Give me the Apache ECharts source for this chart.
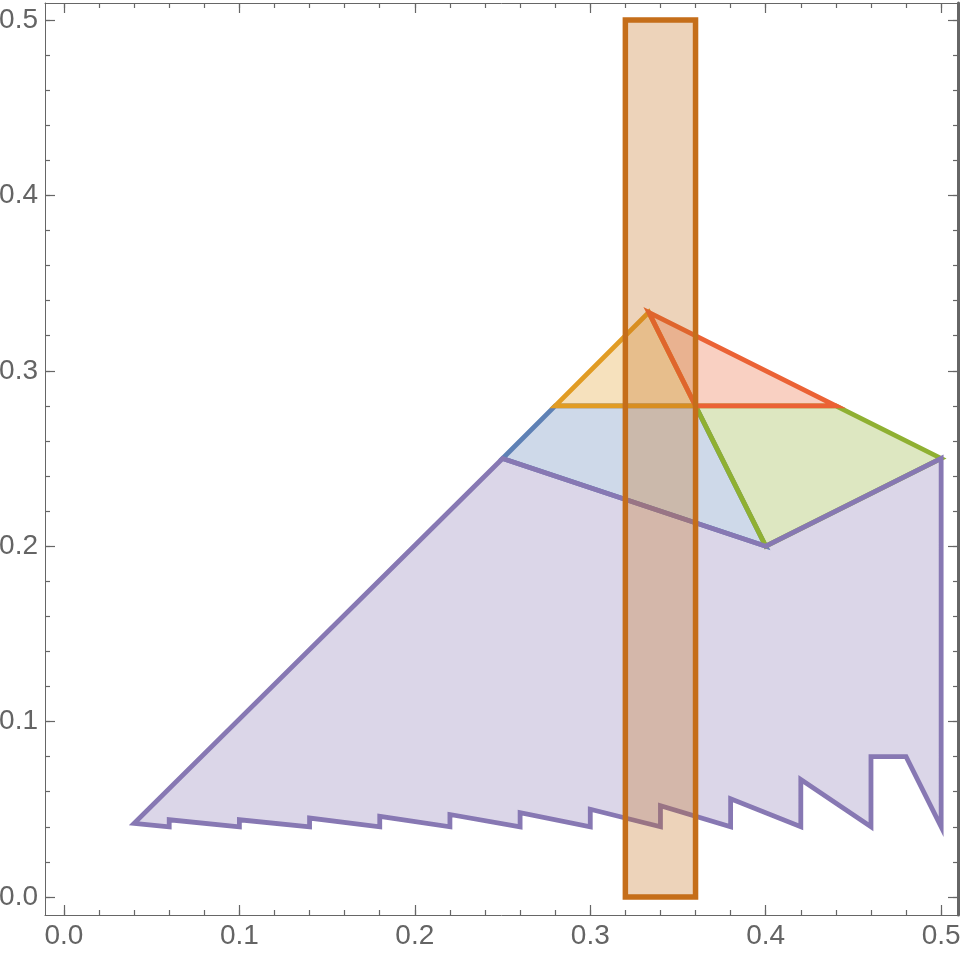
<!DOCTYPE html>
<html>
<head>
<meta charset="utf-8">
<script src="https://cdn.jsdelivr.net/npm/echarts@6/dist/echarts.min.js"></script>
<style>
  html, body { margin: 0; padding: 0; background: #fff; }
  #chart { width: 960px; height: 953px; }
</style>
</head>
<body>
<div id="chart"></div>
<script>
// tick values
const majorTicks = [0, 0.1, 0.2, 0.3, 0.4, 0.5]
const minorTicks = [0, 0.02, 0.04, 0.06, 0.08, 0.1, 0.12, 0.14, 0.16, 0.18, 0.2, 0.22, 0.24,
  0.26, 0.28, 0.3, 0.32, 0.34, 0.36, 0.38, 0.4, 0.42, 0.44, 0.46, 0.48, 0.5]

// polygon vertices [x, y]
const bluePts = [[0.25, 0.25], [0.28, 0.28], [0.36, 0.28], [0.4, 0.2]]
const greenPts = [[0.36, 0.28], [0.44, 0.28], [0.5, 0.25], [0.4, 0.2]]
const orangePts = [[0.28, 0.28], [1 / 3, 1 / 3], [0.36, 0.28]]
const redPts = [[1 / 3, 1 / 3], [0.44, 0.28], [0.36, 0.28]]
const purplePts = [
  [0.04, 0.042], [0.06, 0.04], [0.06, 0.044], [0.1, 0.04], [0.1, 0.044],
  [0.14, 0.04], [0.14, 0.045], [0.18, 0.04], [0.18, 0.046], [0.22, 0.04], [0.22, 0.047],
  [0.26, 0.04], [0.26, 0.048], [0.3, 0.04], [0.3, 0.05], [0.34, 0.04], [0.34, 0.052],
  [0.38, 0.04], [0.38, 0.056], [0.42, 0.04], [0.42, 0.067], [0.46, 0.04], [0.46, 0.08],
  [0.48, 0.08], [0.5, 0.04], [0.5, 0.25], [0.4, 0.2], [0.25, 0.25]
]
const rectPts = [[0.32, 0], [0.36, 0], [0.36, 0.5], [0.32, 0.5]]

const xRange = [-0.0108, 0.5096]
const yRange = [-0.0103, 0.5097]

const axisColor = '#666'
const labelColor = '#646464'

const fade = (hex, a) => {
  const n = parseInt(hex.slice(1), 16)
  return `rgba(${n >> 16}, ${(n >> 8) & 255}, ${n & 255}, ${a})`
}

// 多边形系列
const polygon = (name, pts, color, width, z) => ({
  type: 'custom',
  name,
  coordinateSystem: 'cartesian2d',
  data: pts,
  encode: { x: 0, y: 1 },
  z,
  silent: true,
  renderItem: (params, api) => {
    if (params.dataIndex !== 0) return
    const points = pts.map(p => api.coord(p))
    return {
      type: 'polygon',
      shape: { points },
      style: { fill: fade(color, 0.3), stroke: color, lineWidth: width, lineJoin: 'miter' }
    }
  }
})

const makeAxis = (range, position, major, labels, lineWidth) => ({
  type: 'value',
  position,
  min: range[0],
  max: range[1],
  axisLine: { show: major, onZero: false, lineStyle: { color: axisColor, width: lineWidth || 1 } },
  axisTick: {
    inside: true,
    length: major ? 10 : 5,
    customValues: major ? majorTicks : minorTicks,
    lineStyle: { color: axisColor, width: 1.2 }
  },
  axisLabel: labels ? {
    customValues: majorTicks,
    formatter: v => v.toFixed(1),
    color: labelColor,
    fontFamily: "'Liberation Sans Narrow', 'Liberation Sans', sans-serif",
    fontSize: 28,
    margin: 7
  } : { show: false },
  splitLine: { show: false }
})

const chart = echarts.init(document.getElementById('chart'))

chart.setOption({
  animation: false,
  grid: { left: 45, right: 2, top: 3, bottom: 38, outerBoundsMode: 'none' },
  xAxis: [
    makeAxis(xRange, 'bottom', true, true),
    makeAxis(xRange, 'bottom', false, false),
    makeAxis(xRange, 'top', true, false),
    makeAxis(xRange, 'top', false, false)
  ],
  yAxis: [
    makeAxis(yRange, 'left', true, true),
    makeAxis(yRange, 'left', false, false),
    makeAxis(yRange, 'right', true, false, 3),
    makeAxis(yRange, 'right', false, false)
  ],
  series: [
    polygon('blue', bluePts, '#5E81B5', 4.8, 2),
    polygon('green', greenPts, '#8FB032', 4.8, 3),
    polygon('orange', orangePts, '#E19C24', 4.8, 4),
    polygon('red', redPts, '#EB6235', 4.8, 5),
    polygon('purple', purplePts, '#8778B3', 4.8, 6),
    polygon('rect', rectPts, '#C56E1A', 5.5, 7)
  ]
})
</script>
</body>
</html>
